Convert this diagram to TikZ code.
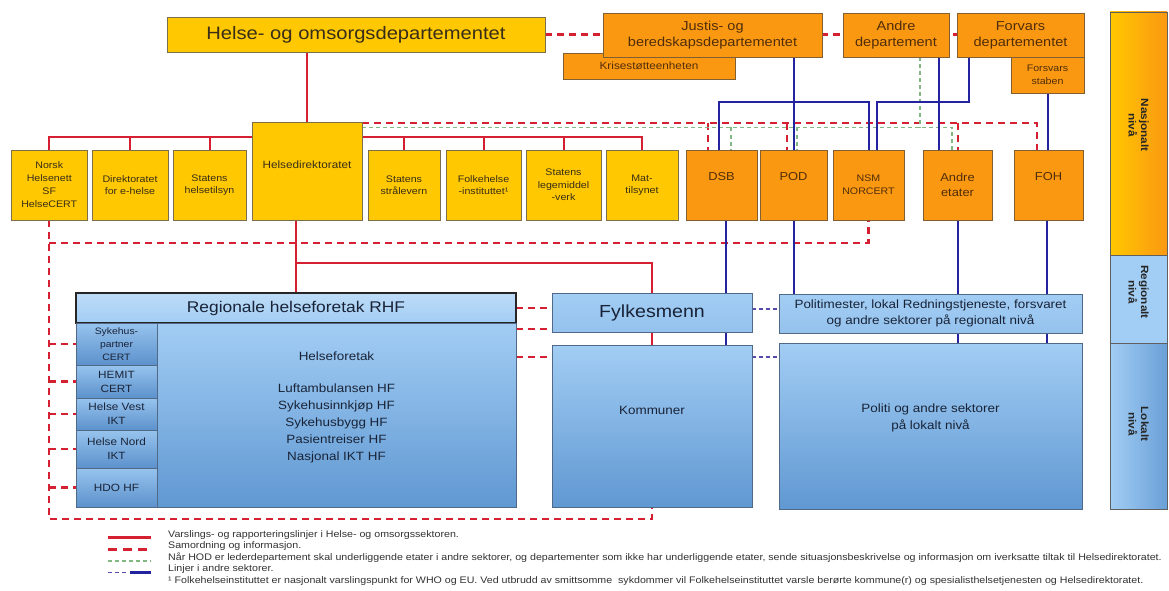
\documentclass[tikz,border=0pt]{standalone}
\usepackage{fontspec}
\setmainfont{Liberation Sans}[FakeStretch=1.12]
\usetikzlibrary{backgrounds}
\definecolor{yel}{RGB}{255,200,0}
\definecolor{ybord}{RGB}{125,110,75}
\definecolor{org}{RGB}{250,152,18}
\definecolor{obord}{RGB}{130,95,50}
\definecolor{blt}{RGB}{162,205,244}
\definecolor{bdk}{RGB}{96,152,210}
\definecolor{cdk}{RGB}{92,145,204}
\definecolor{bbord}{RGB}{80,105,135}
\definecolor{rl}{RGB}{212,32,48}
\definecolor{gl}{RGB}{130,182,130}
\definecolor{bl}{RGB}{35,35,160}
\definecolor{bld}{RGB}{85,75,175}
\definecolor{ytxt}{RGB}{55,45,25}
\definecolor{otxt}{RGB}{80,45,10}
\definecolor{btxt}{RGB}{25,35,55}
\definecolor{legtxt}{RGB}{50,50,50}
\newcommand{\fsz}[2]{\fontsize{#1}{#2}\selectfont}
\tikzset{
  base/.style={rectangle, inner sep=0pt, outer sep=0pt, align=center, line width=0.9pt},
  ybox/.style={base, draw=ybord, fill=yel, text=ytxt, font=\fsz{9.5}{12.5}},
  obox/.style={base, draw=obord, fill=org, text=otxt, font=\fsz{11.5}{15}},
  bbox/.style={base, draw=bbord, top color=blt, bottom color=bdk, text=btxt},
  cbox/.style={base, draw=bbord, top color=blt!85!cdk, bottom color=cdk, text=btxt},
  lvl/.style={base, draw=gray!75!black, line width=0.8pt},
  lvltxt/.style={inner sep=0pt, align=center, text=black!85, font=\bfseries\fsz{10.5}{12.5}},
  txt/.style={inner sep=0pt, align=center, text=btxt},
  legt/.style={inner sep=0pt, anchor=west, text=legtxt, font=\fsz{9.5}{11}},
  rline/.style={draw=rl, line width=2pt},
  rdash/.style={draw=rl, line width=2.4pt, dash pattern=on 7pt off 5pt},
  gdash/.style={draw=gl, line width=1.5pt, dash pattern=on 4pt off 3pt},
  bline/.style={draw=bl, line width=2pt},
  bdash/.style={draw=bld, line width=1.6pt, dash pattern=on 4pt off 3pt},
}
\begin{document}
\begin{tikzpicture}[x=1pt,y=-1pt]
\useasboundingbox (0,0) rectangle (1169,591);
% ---------- top ministries
\node[ybox, minimum width=378, minimum height=35, font=\fsz{18}{20}] (hod) at (356,34.5) {Helse- og omsorgsdepartementet};
\node[obox, minimum width=172, minimum height=26, font=\fsz{10.5}{12}] (krise) at (649,66) {Krisestøtteenheten};
\node[obox, minimum width=219, minimum height=44, font=\fsz{13}{16}] (justis) at (712.5,35) {Justis- og\\beredskapsdepartementet};
\node[obox, minimum width=106, minimum height=44, font=\fsz{13}{16}] (andredep) at (896,35) {Andre\\departement};
\node[obox, minimum width=127, minimum height=44, font=\fsz{13}{16}] (forsdep) at (1020.5,35) {Forvars\\departementet};
\node[obox, minimum width=73, minimum height=36, font=\fsz{9.5}{12.5}] (staben) at (1047.5,75) {Forsvars\\staben};
% ---------- national agencies
\node[ybox, minimum width=110, minimum height=98, font=\fsz{10.5}{13}] (helsedir) at (307,171) {\raisebox{6pt}[\height][\depth]{Helsedirektoratet}};
\node[ybox, minimum width=75.5, minimum height=70, font=\fsz{9.5}{13}] (norsk) at (49.25,185) {Norsk\\Helsenett\\SF\\HelseCERT};
\node[ybox, minimum width=76, minimum height=70] (ehelse) at (130,185) {Direktoratet\\for e-helse};
\node[ybox, minimum width=73, minimum height=70] (tilsyn) at (209.5,185) {Statens\\helsetilsyn};
\node[ybox, minimum width=72, minimum height=70] (straale) at (404,185) {Statens\\strålevern};
\node[ybox, minimum width=75, minimum height=70] (fhi) at (483.5,185) {Folkehelse\\-instituttet¹};
\node[ybox, minimum width=75, minimum height=70] (legemiddel) at (563.5,185) {Statens\\legemiddel\\-verk};
\node[ybox, minimum width=72, minimum height=70] (mat) at (642,185) {Mat-\\tilsynet};
\node[obox, minimum width=71, minimum height=70] (dsb) at (721.5,185) {\raisebox{8pt}[\height][\depth]{DSB}};
\node[obox, minimum width=67, minimum height=70] (pod) at (793.5,185) {\raisebox{8pt}[\height][\depth]{POD}};
\node[obox, minimum width=71, minimum height=70, font=\fsz{9.5}{13}] (nsm) at (868.5,185) {NSM\\NORCERT};
\node[obox, minimum width=69, minimum height=70] (etater) at (957.5,185) {Andre\\etater};
\node[obox, minimum width=69, minimum height=70] (foh) at (1048.5,185) {\raisebox{8pt}[\height][\depth]{FOH}};
% ---------- regional / local
\node[bbox, draw=black!85, line width=1.2pt, top color=blt!70!white, bottom color=blt, minimum width=440, minimum height=30, font=\fsz{15.5}{18}] (rhfhead) at (296,308) {Regionale helseforetak RHF};
\node[bbox, minimum width=359, minimum height=184] (rhfbody) at (336.5,415) {};
\node[txt, font=\fsz{12}{17}] (rhftxt) at (336.5,407) {Helseforetak\\[15pt]Luftambulansen HF\\Sykehusinnkjøp HF\\Sykehusbygg HF\\Pasientreiser HF\\Nasjonal IKT HF};
\node[cbox, minimum width=81, minimum height=42, font=\fsz{9.3}{13}] (sp) at (116.5,344) {Sykehus-\\partner\\CERT};
\node[cbox, minimum width=81, minimum height=33, font=\fsz{10.5}{14}] (hemit) at (116.5,381.5) {HEMIT\\CERT};
\node[cbox, minimum width=81, minimum height=32, font=\fsz{10.5}{14}] (hvest) at (116.5,414) {Helse Vest\\IKT};
\node[cbox, minimum width=81, minimum height=38, font=\fsz{10.5}{14}] (hnord) at (116.5,449) {Helse Nord\\IKT};
\node[cbox, minimum width=81, minimum height=39, font=\fsz{10.5}{14}] (hdo) at (116.5,487.5) {HDO HF};
\node[bbox, top color=blt, bottom color=blt!80!bdk, minimum width=200, minimum height=39, font=\fsz{17.5}{20}] (fylkes) at (652,312.5) {Fylkesmenn};
\node[bbox, minimum width=200, minimum height=162] (kommuner) at (652,426) {};
\node[txt, font=\fsz{12}{16}] (kommtxt) at (652,410) {Kommuner};
\node[bbox, top color=blt, bottom color=blt!80!bdk, minimum width=303, minimum height=39, font=\fsz{12}{16}] (politimester) at (930.5,313.5) {Politimester, lokal Redningstjeneste, forsvaret\\og andre sektorer på regionalt nivå};
\node[bbox, minimum width=303, minimum height=166] (politi) at (930.5,426) {};
\node[txt, font=\fsz{12}{17}] (polititxt) at (930.5,418) {Politi og andre sektorer\\på lokalt nivå};
% ---------- level bar
\node[lvl, left color=yel, right color=org, minimum width=57, minimum height=243] (nasj) at (1138.5,133.5) {};
\node[lvltxt, rotate=-90] (nasjtxt) at (1138.5,125) {Nasjonalt\\nivå};
\node[lvl, fill=blt, minimum width=57, minimum height=88] (regional) at (1138.5,299) {};
\node[lvltxt, rotate=-90] (regtxt) at (1138.5,292) {Regionalt\\nivå};
\node[lvl, left color=blt, right color=bdk!85!blt, minimum width=57, minimum height=166] (lokal) at (1138.5,426) {};
\node[lvltxt, rotate=-90] (loktxt) at (1138.5,424) {Lokalt\\nivå};
% ---------- legend texts
\node[legt] (lt1) at (168,535) {Varslings- og rapporteringslinjer i Helse- og omsorgssektoren.};
\node[legt] (lt2) at (168,546.5) {Samordning og informasjon.};
\node[legt] (lt3) at (168,558) {Når HOD er lederdepartement skal underliggende etater i andre sektorer, og departementer som ikke har underliggende etater, sende situasjonsbeskrivelse og informasjon om iverksatte tiltak til Helsedirektoratet.};
\node[legt] (lt4) at (168,569.5) {Linjer i andre sektorer.};
\node[legt] (lt5) at (168,581) {¹ Folkehelseinstituttet er nasjonalt varslingspunkt for WHO og EU. Ved utbrudd av smittsomme\ \ sykdommer vil Folkehelseinstituttet varsle berørte kommune(r) og spesialisthelsetjenesten og Helsedirektoratet.};
% ---------- connectors
\begin{pgfonlayer}{background}
\fill[white] (0,0) rectangle (1169,591);
\coordinate (bus) at (0,137);
\coordinate (rd) at (0,123);
\coordinate (gd) at (0,127.5);
\coordinate (bt) at (0,102);
\coordinate (ld) at (0,243);
\coordinate (ms) at (0,263);
\coordinate (bd) at (0,519);
\coordinate (y1) at (0,329);
\coordinate (y2) at (0,357);
\coordinate (y3) at (0,309);
% HOD
\draw[rdash] (hod.east) -- (hod.east -| forsdep.west);
\draw[rline] (hod.south -| helsedir.north) -- (helsedir.north);
% bus to agencies
\draw[rline] (norsk.north) |- (bus -| helsedir.west);
\draw[rline] (ehelse.north) -- (ehelse.north |- bus);
\draw[rline] (tilsyn.north) -- (tilsyn.north |- bus);
\draw[rline] (helsedir.east |- bus) -| (mat.north);
\foreach \n in {straale,fhi,legemiddel} \draw[rline] (\n.north) -- (\n.north |- bus);
% upper red dashed and green dashed
\draw[rdash] (helsedir.east |- rd) -| ([xshift=-11.5]foh.north);
\draw[rdash] ([xshift=-13.5]dsb.north |- rd) -- ([xshift=-13.5]dsb.north);
\draw[rdash] ([xshift=-6.5]pod.north |- rd) -- ([xshift=-6.5]pod.north);
\draw[rdash] ([xshift=0.5]etater.north |- rd) -- ([xshift=0.5]etater.north);
\draw[gdash] (helsedir.east |- gd) -| ([xshift=-5.5]etater.north);
\draw[gdash] ([xshift=9.5]dsb.north |- gd) -- ([xshift=9.5]dsb.north);
\draw[gdash] ([xshift=3.5]pod.north |- gd) -- ([xshift=3.5]pod.north);
\draw[gdash] ([xshift=24]andredep.south) -- ([xshift=24]andredep.south |- gd);
% blue top
\draw[bline] (pod.north) -- (pod.north |- justis.south);
\draw[bline] ([xshift=-2.5]dsb.north) |- (bt -| nsm.north) -- (nsm.north);
\draw[bline] ([xshift=-51.5]forsdep.south) |- ([xshift=8.5]nsm.north |- bt) -- ([xshift=8.5]nsm.north);
\draw[bline] ([xshift=43]andredep.south) -- ([xshift=43]andredep.south |- etater.north);
\draw[bline] (staben.south) -- (staben.south |- foh.north);
% lower red dashed
\draw[rdash] (norsk.south) -- (norsk.south |- bd) -| (kommuner.south);
\draw[rdash] (norsk.south |- ld) -| (nsm.south);
\foreach \n in {sp,hemit,hvest,hnord,hdo} \draw[rdash] (\n.west -| norsk.south) -- (\n.west);
\draw[rdash] (rhfhead.east) -- (rhfhead.east -| fylkes.west);
\draw[rdash] (rhfbody.east |- y1) -- (fylkes.west |- y1);
\draw[rdash] (rhfbody.east |- y2) -- (kommuner.west |- y2);
% red solid lower
\draw[rline] (helsedir.south -| rhfhead.north) -- (rhfhead.north);
\draw[rline] (rhfhead.north |- ms) -| (fylkes.north);
\draw[rline] (fylkes.south) -- (kommuner.north);
% blue lower
\draw[bline] ([xshift=4.5]dsb.south) -- ([xshift=4.5]dsb.south |- fylkes.north);
\draw[bline] ([xshift=4.5]dsb.south |- fylkes.south) -- ([xshift=4.5]dsb.south |- kommuner.north);
\draw[bline] (pod.south) -- (pod.south |- politimester.north);
\draw[bline] (etater.south) -- (etater.south |- politimester.north);
\draw[bline] (etater.south |- politimester.south) -- (etater.south |- politi.north);
\draw[bline] ([xshift=-1.5]foh.south) -- ([xshift=-1.5]foh.south |- politimester.north);
\draw[bline] ([xshift=-1.5]foh.south |- politimester.south) -- ([xshift=-1.5]foh.south |- politi.north);
\draw[bdash] (fylkes.east |- y3) -- (politimester.west |- y3);
\draw[bdash] (kommuner.east |- y2) -- (politi.west |- y2);
% legend markers
\coordinate (m1a) at (108,537.5); \coordinate (m1b) at (151,537.5);
\coordinate (m2a) at (108,549.5); \coordinate (m2b) at (151,549.5);
\coordinate (m3a) at (108,561); \coordinate (m3b) at (151,561);
\coordinate (m4a) at (108,572.5); \coordinate (m4b) at (128,572.5);
\coordinate (m4c) at (130,572.5); \coordinate (m4d) at (151,572.5);
\draw[rline, line width=2.2pt] (m1a) -- (m1b);
\draw[rdash, dash pattern=on 9pt off 6pt] (m2a) -- (m2b);
\draw[gdash] (m3a) -- (m3b);
\draw[bdash, draw=bld] (m4a) -- (m4b);
\draw[bline, line width=2.2pt] (m4c) -- (m4d);
\end{pgfonlayer}
\end{tikzpicture}
\end{document}
